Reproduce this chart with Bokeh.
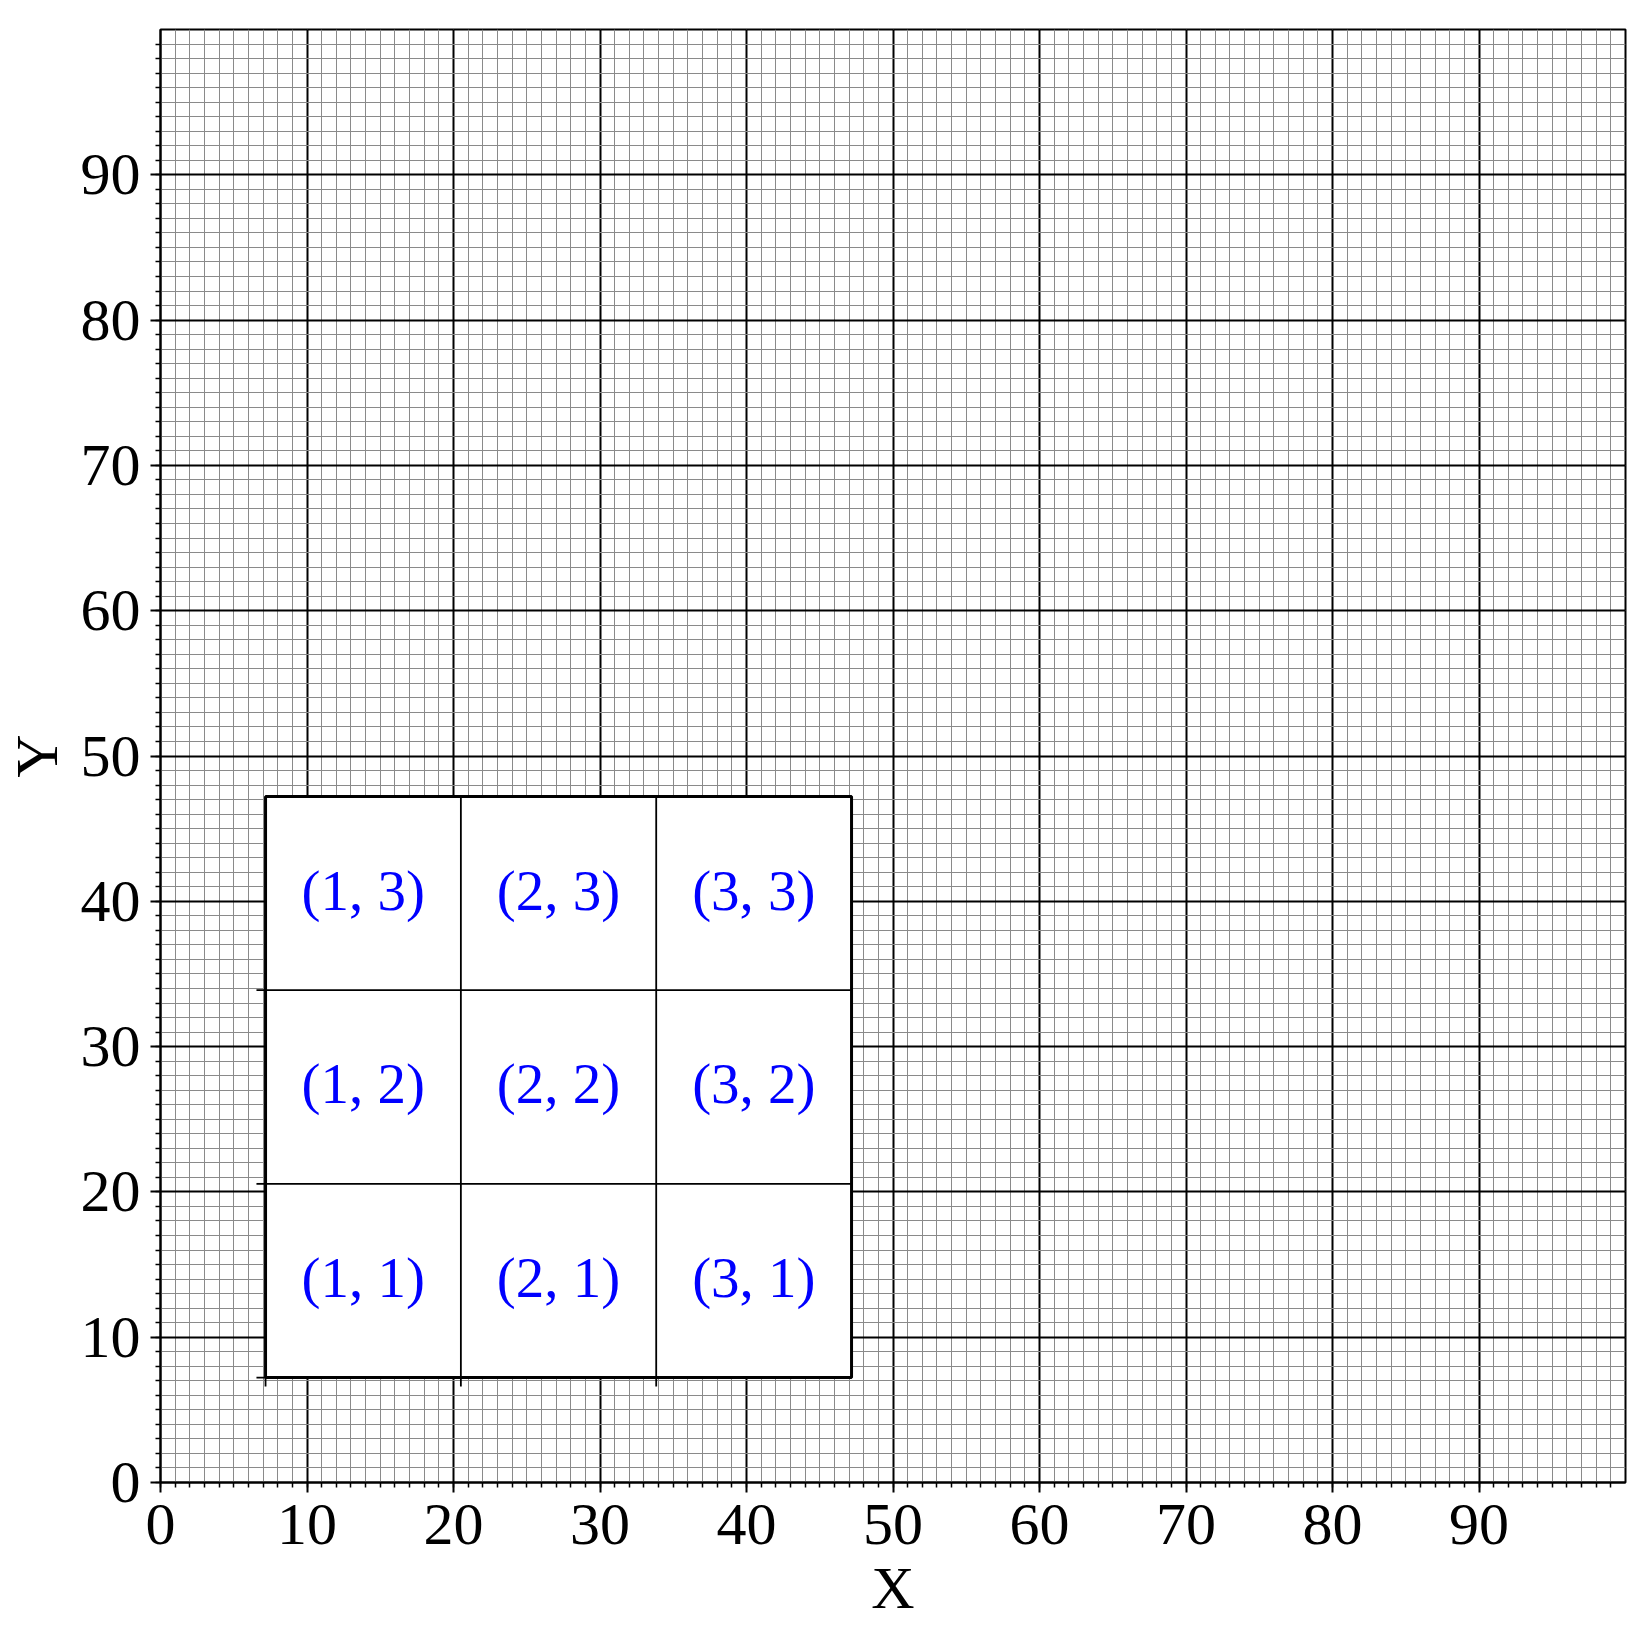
from bokeh.plotting import figure
from bokeh.models import FixedTicker, Range1d, ColumnDataSource
from bokeh.core.properties import value
from bokeh.embed import file_html
from bokeh.resources import INLINE

# ---- data ----
x_ticks = [0, 10, 20, 30, 40, 50, 60, 70, 80, 90]
y_ticks = [0, 10, 20, 30, 40, 50, 60, 70, 80, 90]
minor_ticks = list(range(0, 100))
cell_cols = [1, 2, 3, 1, 2, 3, 1, 2, 3]
cell_rows = [1, 1, 1, 2, 2, 2, 3, 3, 3]
cell_labels = ["(%d, %d)" % (c, r) for c, r in zip(cell_cols, cell_rows)]
n_cells = 3

# ---- inset placement (in host data units) ----
INSET_X0 = 7.17
INSET_Y0 = 7.22
INSET_SIZE = 40.0
TICK_LEN = 0.62

FONT = "Liberation Serif"

p = figure(output_backend="svg", toolbar_location=None,
           frame_width=1465, frame_height=1453,
           min_border_left=153, min_border_right=10,
           min_border_top=29, min_border_bottom=136,
           x_range=Range1d(0, 100), y_range=Range1d(0, 100),
           background_fill_color="white", border_fill_color="white")

for ax, ticks in ((p.xaxis, x_ticks), (p.yaxis, y_ticks)):
    ax.ticker = FixedTicker(ticks=ticks, minor_ticks=minor_ticks)
    ax.major_tick_out = 10
    ax.major_tick_in = 0
    ax.minor_tick_out = 5
    ax.minor_tick_in = 0
    ax.major_tick_line_width = 2
    ax.minor_tick_line_width = 1.5
    ax.axis_line_width = 2
    ax.axis_line_color = "black"
    ax.major_tick_line_color = "black"
    ax.minor_tick_line_color = "black"
    ax.major_label_text_font = FONT
    ax.major_label_text_font_size = "60px"
    ax.major_label_text_color = "black"
    ax.axis_label_text_font = FONT
    ax.axis_label_text_font_size = "60px"
    ax.axis_label_text_font_style = "normal"
    ax.axis_label_text_color = "black"

p.xaxis.axis_label = "X"
p.yaxis.axis_label = "Y"
p.xaxis.major_label_standoff = 12
p.yaxis.major_label_standoff = 10
p.xaxis.axis_label_standoff = 8
p.yaxis.axis_label_standoff = 8

for g in (p.xgrid, p.ygrid):
    g.grid_line_color = "black"
    g.grid_line_width = 2
    g.grid_line_alpha = 1.0
    g.minor_grid_line_color = "#8a8a8a"
    g.minor_grid_line_width = 1

p.outline_line_color = "black"
p.outline_line_width = 2
p.outline_line_alpha = 1.0

# ---- inset table ----
cs = INSET_SIZE / n_cells
p.quad(left=[INSET_X0], right=[INSET_X0 + INSET_SIZE],
       bottom=[INSET_Y0], top=[INSET_Y0 + INSET_SIZE],
       fill_color="white", line_color=None)

bounds = [i for i in range(1, n_cells)]
# interior lines
p.segment(x0=[INSET_X0 + b * cs for b in bounds], x1=[INSET_X0 + b * cs for b in bounds],
          y0=[INSET_Y0] * len(bounds), y1=[INSET_Y0 + INSET_SIZE] * len(bounds),
          line_color="black", line_width=1.8)
p.segment(y0=[INSET_Y0 + b * cs for b in bounds], y1=[INSET_Y0 + b * cs for b in bounds],
          x0=[INSET_X0] * len(bounds), x1=[INSET_X0 + INSET_SIZE] * len(bounds),
          line_color="black", line_width=1.8)
# ticks of inset (0..n-1)
tick_idx = list(range(0, n_cells))
p.segment(x0=[INSET_X0 - TICK_LEN] * len(tick_idx), x1=[INSET_X0] * len(tick_idx),
          y0=[INSET_Y0 + t * cs for t in tick_idx], y1=[INSET_Y0 + t * cs for t in tick_idx],
          line_color="black", line_width=1.8)
p.segment(y0=[INSET_Y0 - TICK_LEN] * len(tick_idx), y1=[INSET_Y0] * len(tick_idx),
          x0=[INSET_X0 + t * cs for t in tick_idx], x1=[INSET_X0 + t * cs for t in tick_idx],
          line_color="black", line_width=1.8)
# outer frame
p.quad(left=[INSET_X0], right=[INSET_X0 + INSET_SIZE],
       bottom=[INSET_Y0], top=[INSET_Y0 + INSET_SIZE],
       fill_color=None, line_color="black", line_width=3)

src = ColumnDataSource(dict(
    x=[INSET_X0 + (c - 0.5) * cs for c in cell_cols],
    y=[INSET_Y0 + (r - 0.5) * cs for r in cell_rows],
    t=cell_labels))
p.text(x="x", y="y", text="t", source=src, text_align="center", text_baseline="middle",
       y_offset=-3,
       text_color="#0000ff", text_font=value(FONT), text_font_size="57px")

open("out.html", "w").write(file_html(p, INLINE))
